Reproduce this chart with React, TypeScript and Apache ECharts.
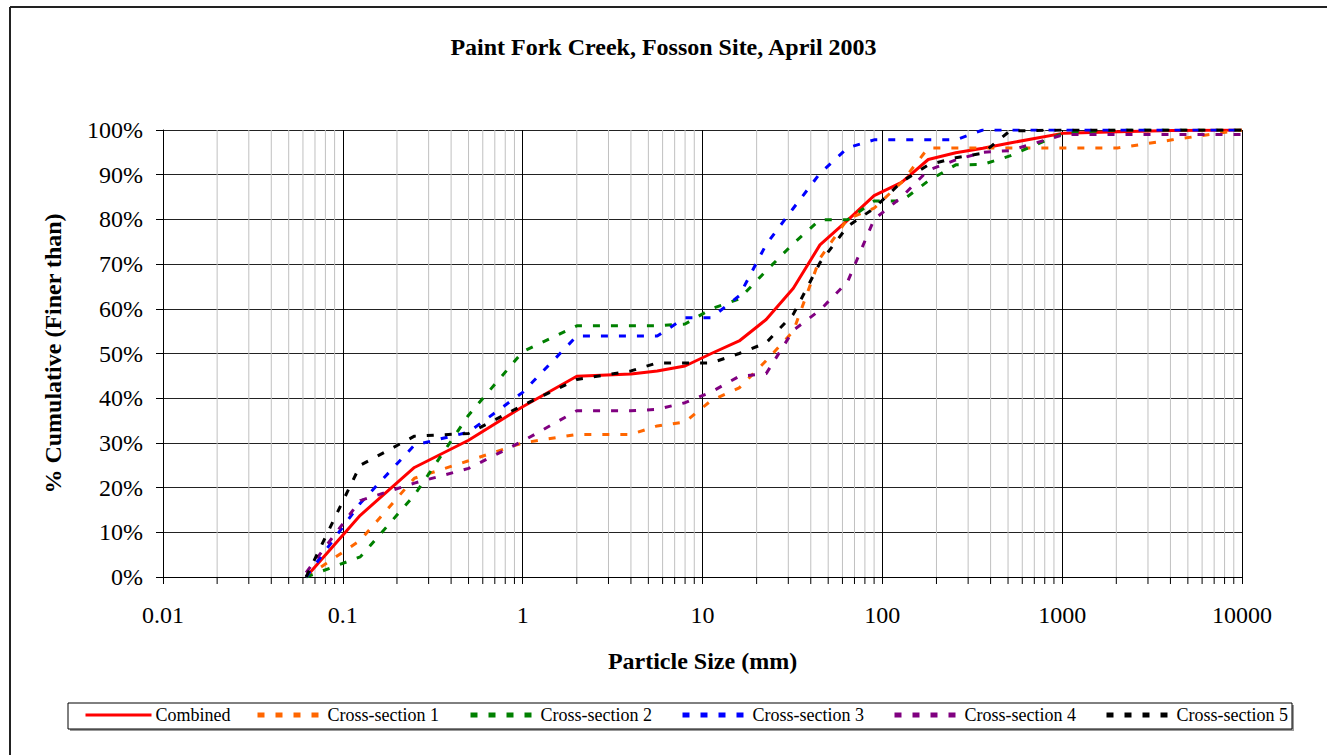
import React, { useEffect, useRef } from "react";
import * as echarts from "echarts";

const sizes = [0.0625, 0.125, 0.25, 0.5, 1, 2, 4, 5.6, 8, 11.2, 16, 22.6, 32, 45, 64, 90, 128, 180, 256, 362, 512, 1024, 2048, 4096, 10000];

const combined = [0, 13.8, 24.5, 30.6, 38.1, 44.9, 45.4, 46.1, 47.2, 50.0, 52.8, 57.6, 64.6, 74.3, 79.8, 85.3, 88.3, 93.4, 94.9, 95.9, 97.1, 99.3, 99.6, 99.9, 100];
const cs1 = [0, 8.2, 22.1, 26.0, 30.0, 31.9, 31.9, 33.8, 34.7, 39.5, 42.3, 48.4, 55.0, 71.3, 80.1, 82.5, 88.3, 96.0, 96.0, 96.0, 96.0, 96.0, 96.0, 97.8, 100];
const cs2 = [0, 4.5, 18.3, 36.2, 50.4, 56.2, 56.2, 56.2, 56.6, 60.0, 62.2, 68.5, 74.6, 79.9, 79.9, 84.1, 84.1, 88.6, 92.2, 92.3, 94.2, 99.4, 100, 100, 100];
const cs3 = [0, 16.5, 29.5, 32.4, 41.3, 53.9, 53.9, 53.9, 58.0, 58.0, 62.9, 74.4, 82.5, 90.3, 96.0, 97.8, 97.8, 97.8, 97.8, 100, 100, 100, 100, 100, 100];
const cs4 = [1, 17.1, 21.0, 24.3, 30.4, 37.2, 37.2, 37.5, 39.0, 41.4, 44.9, 45.5, 55.2, 59.7, 66.0, 80.0, 85.0, 91.0, 93.3, 95.0, 95.4, 99.0, 99.0, 99.0, 99.0];
const cs5 = [0, 25.0, 31.5, 32.1, 38.4, 44.2, 46.1, 47.9, 47.9, 47.9, 50.0, 52.4, 58.8, 70.3, 78.4, 82.5, 88.4, 92.2, 93.8, 94.8, 99.8, 100, 100, 100, 100];

const seriesNames = ["Combined", "Cross-section 1", "Cross-section 2", "Cross-section 3", "Cross-section 4", "Cross-section 5"];
const seriesValues = [combined, cs1, cs2, cs3, cs4, cs5];
const seriesColors = ["#FF0000", "#FF6600", "#008000", "#0000FF", "#800080", "#000000"];

const xTickLabels = ["0.01", "0.1", "1", "10", "100", "1000", "10000"];
const minorMultipliers = [2, 3, 4, 5, 6, 7, 8, 9];
const decades = [0.01, 0.1, 1, 10, 100, 1000];

const title = "Paint Fork Creek, Fosson Site, April 2003";
const xName = "Particle Size (mm)";
const yName = "% Cumulative (Finer than)";

const FONT = "'Liberation Serif', 'Times New Roman', serif";

export default function App() {
  const ref = useRef<HTMLDivElement>(null);
  useEffect(() => {
    document.body.style.margin = "0";
    const chart = echarts.init(ref.current!, null, { renderer: "svg" });
    const minorValues: number[][] = [];
    decades.forEach((d) => minorMultipliers.forEach((m) => minorValues.push([d * m, 0])));

    const legendLefts = [84, 255, 468, 680, 892, 1104];

    const option: any = {
      animation: false,
      backgroundColor: "#ffffff",
      title: {
        text: title,
        left: "center",
        top: 30,
        textStyle: { fontFamily: FONT, fontSize: 24, fontWeight: "bold", color: "#000" },
      },
      grid: { left: 163, right: 85, top: 130, bottom: 178, containLabel: false },
      legend: seriesNames.map((n, i) => ({
        data: [n],
        left: legendLefts[i],
        top: 706,
        padding: 0,
        itemWidth: 66,
        itemHeight: 14,
        itemGap: 0,
        selectedMode: false,
        itemStyle: { opacity: 0, borderWidth: 0 },
        textStyle: { fontFamily: FONT, fontSize: 18, color: "#000", padding: [0, 0, 0, -1] },
        lineStyle: { width: i === 0 ? 3 : 5 },
      })),
      xAxis: {
        type: "log",
        logBase: 10,
        min: 0.01,
        max: 10000,
        name: xName,
        nameLocation: "middle",
        nameGap: 72,
        nameTextStyle: { fontFamily: FONT, fontSize: 24, fontWeight: "bold", color: "#000" },
        axisLine: { show: true, lineStyle: { color: "#000", width: 1 } },
        axisTick: { show: true, inside: false, length: 7, lineStyle: { color: "#000" } },
        axisLabel: {
          fontFamily: FONT,
          fontSize: 24,
          color: "#000",
          margin: 26,
          showMinLabel: true,
          showMaxLabel: true,
          formatter: (v: number) => xTickLabels[Math.round(Math.log10(v)) + 2] ?? "",
        },
        splitLine: { show: true, lineStyle: { color: "#000", width: 1 } },
      },
      yAxis: {
        type: "value",
        min: 0,
        max: 100,
        interval: 10,
        name: yName,
        nameLocation: "middle",
        nameGap: 98,
        nameTextStyle: { fontFamily: FONT, fontSize: 24, fontWeight: "bold", color: "#000" },
        axisLine: { show: true, lineStyle: { color: "#000", width: 1 } },
        axisTick: { show: true, inside: false, length: 7, lineStyle: { color: "#000" } },
        axisLabel: { fontFamily: FONT, fontSize: 24, color: "#000", margin: 20, formatter: "{value}%" },
        splitLine: { show: true, lineStyle: { color: "#222", width: 1 } },
      },
      graphic: [
        { type: "line", shape: { x1: 10, y1: 7, x2: 1327, y2: 7 }, style: { stroke: "#222", lineWidth: 2 }, z: -10 },
        { type: "line", shape: { x1: 10, y1: 7, x2: 10, y2: 755 }, style: { stroke: "#222", lineWidth: 2 }, z: -10 },
        { type: "rect", shape: { x: 70, y: 705, width: 1224, height: 26 }, style: { fill: "#999", stroke: null }, z: -5 },
        { type: "rect", shape: { x: 68, y: 703, width: 1224, height: 26 }, style: { fill: "#fff", stroke: "#000", lineWidth: 1 }, z: -4 },
      ],
      series: [
        {
          type: "custom",
          name: "minor",
          coordinateSystem: "cartesian2d",
          silent: true,
          z: 1,
          data: minorValues,
          encode: { x: 0, y: 1 },
          renderItem: (params: any, api: any) => {
            const x = api.coord([api.value(0), 0])[0];
            const cs = params.coordSys;
            const top = cs.y;
            const bottom = cs.y + cs.height;
            return {
              type: "group",
              children: [
                { type: "line", shape: { x1: x, y1: top, x2: x, y2: bottom }, style: { stroke: "#c0c0c0", lineWidth: 1 } },
                { type: "line", shape: { x1: x, y1: bottom, x2: x, y2: bottom + 7 }, style: { stroke: "#000", lineWidth: 1 } },
              ],
            };
          },
        },
        ...seriesNames.map((n, i) => ({
          type: "line",
          name: n,
          z: 3,
          symbol: "none",
          showSymbol: false,
          color: seriesColors[i],
          data: sizes.map((s, j) => [s, seriesValues[i][j]]),
          lineStyle: {
            color: seriesColors[i],
            width: 3,
            type: i === 0 ? "solid" : [7, 11],
          },
        })),
      ],
    };
    chart.setOption(option);
    return () => chart.dispose();
  }, []);
  return <div ref={ref} style={{ width: 1327, height: 755 }} />;
}
